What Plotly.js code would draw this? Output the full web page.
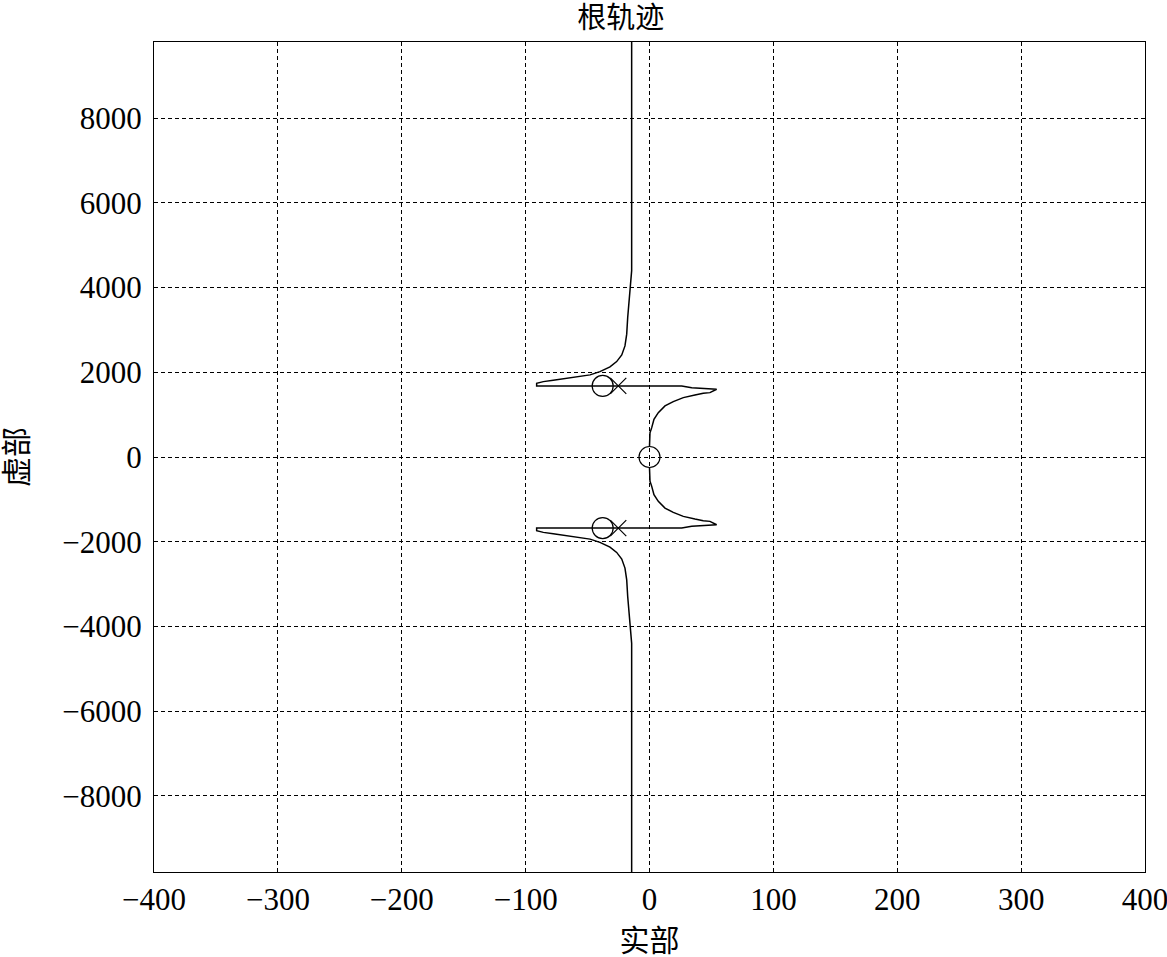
<!DOCTYPE html>
<html>
<head>
<meta charset="utf-8">
<script src="https://cdn.plot.ly/plotly-3.0.1.min.js"></script>
<style>html,body{margin:0;padding:0;background:#fff;}#chart{width:1167px;height:957px;}</style>
</head>
<body>
<div id="chart"></div>
<script>
// Root locus branches (real part, imaginary part)
const upperLeftRe = [-25.2, -91.1, -91.1, -85.7, -77.7, -69.6, -58.8, -48.0, -40.0, -31.9, -26.5, -22.4, -19.8, -18.4, -17.6, -16.5, -15.7, -15.0, -14.4, -14.4];
const upperLeftIm = [1678, 1678, 1742, 1780, 1813, 1851, 1891, 1939, 2017, 2128, 2253, 2411, 2624, 2901, 3293, 3688, 4083, 4239, 4400, 9800];
const upperRightRe = [-25.2, 26.0, 34.1, 46.2, 54.2, 48.8, 43.4, 36.7, 27.3, 19.2, 12.5, 7.1, 3.6, 1.8, 0.4, 0.0];
const upperRightIm = [1678, 1678, 1638, 1624, 1600, 1520, 1506, 1466, 1402, 1307, 1206, 1047, 891, 693, 574, 260];
const lowerLeftRe = [-25.2, -91.1, -91.1, -85.7, -77.7, -69.6, -58.8, -48.0, -40.0, -31.9, -26.5, -22.4, -19.8, -18.4, -17.6, -16.5, -15.7, -15.0, -14.4, -14.4];
const lowerLeftIm = [-1678, -1678, -1742, -1780, -1813, -1851, -1891, -1939, -2017, -2128, -2253, -2411, -2624, -2901, -3293, -3688, -4083, -4239, -4400, -9800];
const lowerRightRe = [-25.2, 26.0, 34.1, 46.2, 54.2, 48.8, 43.4, 36.7, 27.3, 19.2, 12.5, 7.1, 3.6, 1.8, 0.4, 0.0];
const lowerRightIm = [-1678, -1678, -1638, -1624, -1600, -1520, -1506, -1466, -1402, -1307, -1206, -1047, -891, -693, -574, -260];
// Poles and zeros
const poleRe = [-25.2, -25.2];
const poleIm = [1678, -1678];
const zeroRe = [-37.8, -37.8, 0];
const zeroIm = [1678, -1678, 0];
// Ticks
const xTickVals = [-400, -300, -200, -100, 0, 100, 200, 300, 400];
const yTickVals = [-8000, -6000, -4000, -2000, 0, 2000, 4000, 6000, 8000];

const serif = 'Liberation Serif, Times New Roman, Noto Sans CJK SC, serif';
const lineStyle = {color: '#000', width: 1.5};
function branch(x, y) {
  return {x: x, y: y, type: 'scatter', mode: 'lines', line: lineStyle, hoverinfo: 'x+y', showlegend: false};
}
const traces = [
  branch(upperLeftRe, upperLeftIm),
  branch(upperRightRe, upperRightIm),
  branch(lowerLeftRe, lowerLeftIm),
  branch(lowerRightRe, lowerRightIm),
  {x: poleRe, y: poleIm, type: 'scatter', mode: 'markers', showlegend: false,
   marker: {symbol: 'x-thin-open', size: 16, color: '#000', line: {color: '#000', width: 1.2}}},
  {x: zeroRe, y: zeroIm, type: 'scatter', mode: 'markers', showlegend: false,
   marker: {symbol: 'circle-open', size: 21, color: '#000', line: {color: '#000', width: 1.2}}}
];

const axisCommon = {
  showline: true, mirror: true, linecolor: '#000', linewidth: 1,
  showgrid: true, gridcolor: '#000', gridwidth: 1, griddash: '4px,3px',
  zeroline: false, ticks: '', tickmode: 'array', ticklabeloverflow: 'allow',
  tickfont: {family: serif, size: 31, color: '#000'}
};
const layout = {
  width: 1167, height: 957,
  margin: {l: 154, r: 22, t: 42, b: 85},
  paper_bgcolor: '#fff', plot_bgcolor: '#fff',
  showlegend: false,
  title: {text: '根轨迹', font: {family: serif, size: 29, color: '#000'},
          x: 0.532, xanchor: 'center', yref: 'container', y: 0.992, yanchor: 'top', pad: {t: 0}},
  xaxis: Object.assign({}, axisCommon, {
    range: [-400, 400], tickvals: xTickVals, ticklabelstandoff: 0,
    title: {text: '实部', font: {family: serif, size: 30, color: '#000'}, standoff: 18}
  }),
  yaxis: Object.assign({}, axisCommon, {
    range: [-9800, 9800], tickvals: yTickVals, ticklabelstandoff: 5,
    title: {text: '虚部', font: {family: serif, size: 30, color: '#000'}, standoff: 28}
  })
};
Plotly.newPlot('chart', traces, layout, {displayModeBar: false, staticPlot: true});
</script>
</body>
</html>
